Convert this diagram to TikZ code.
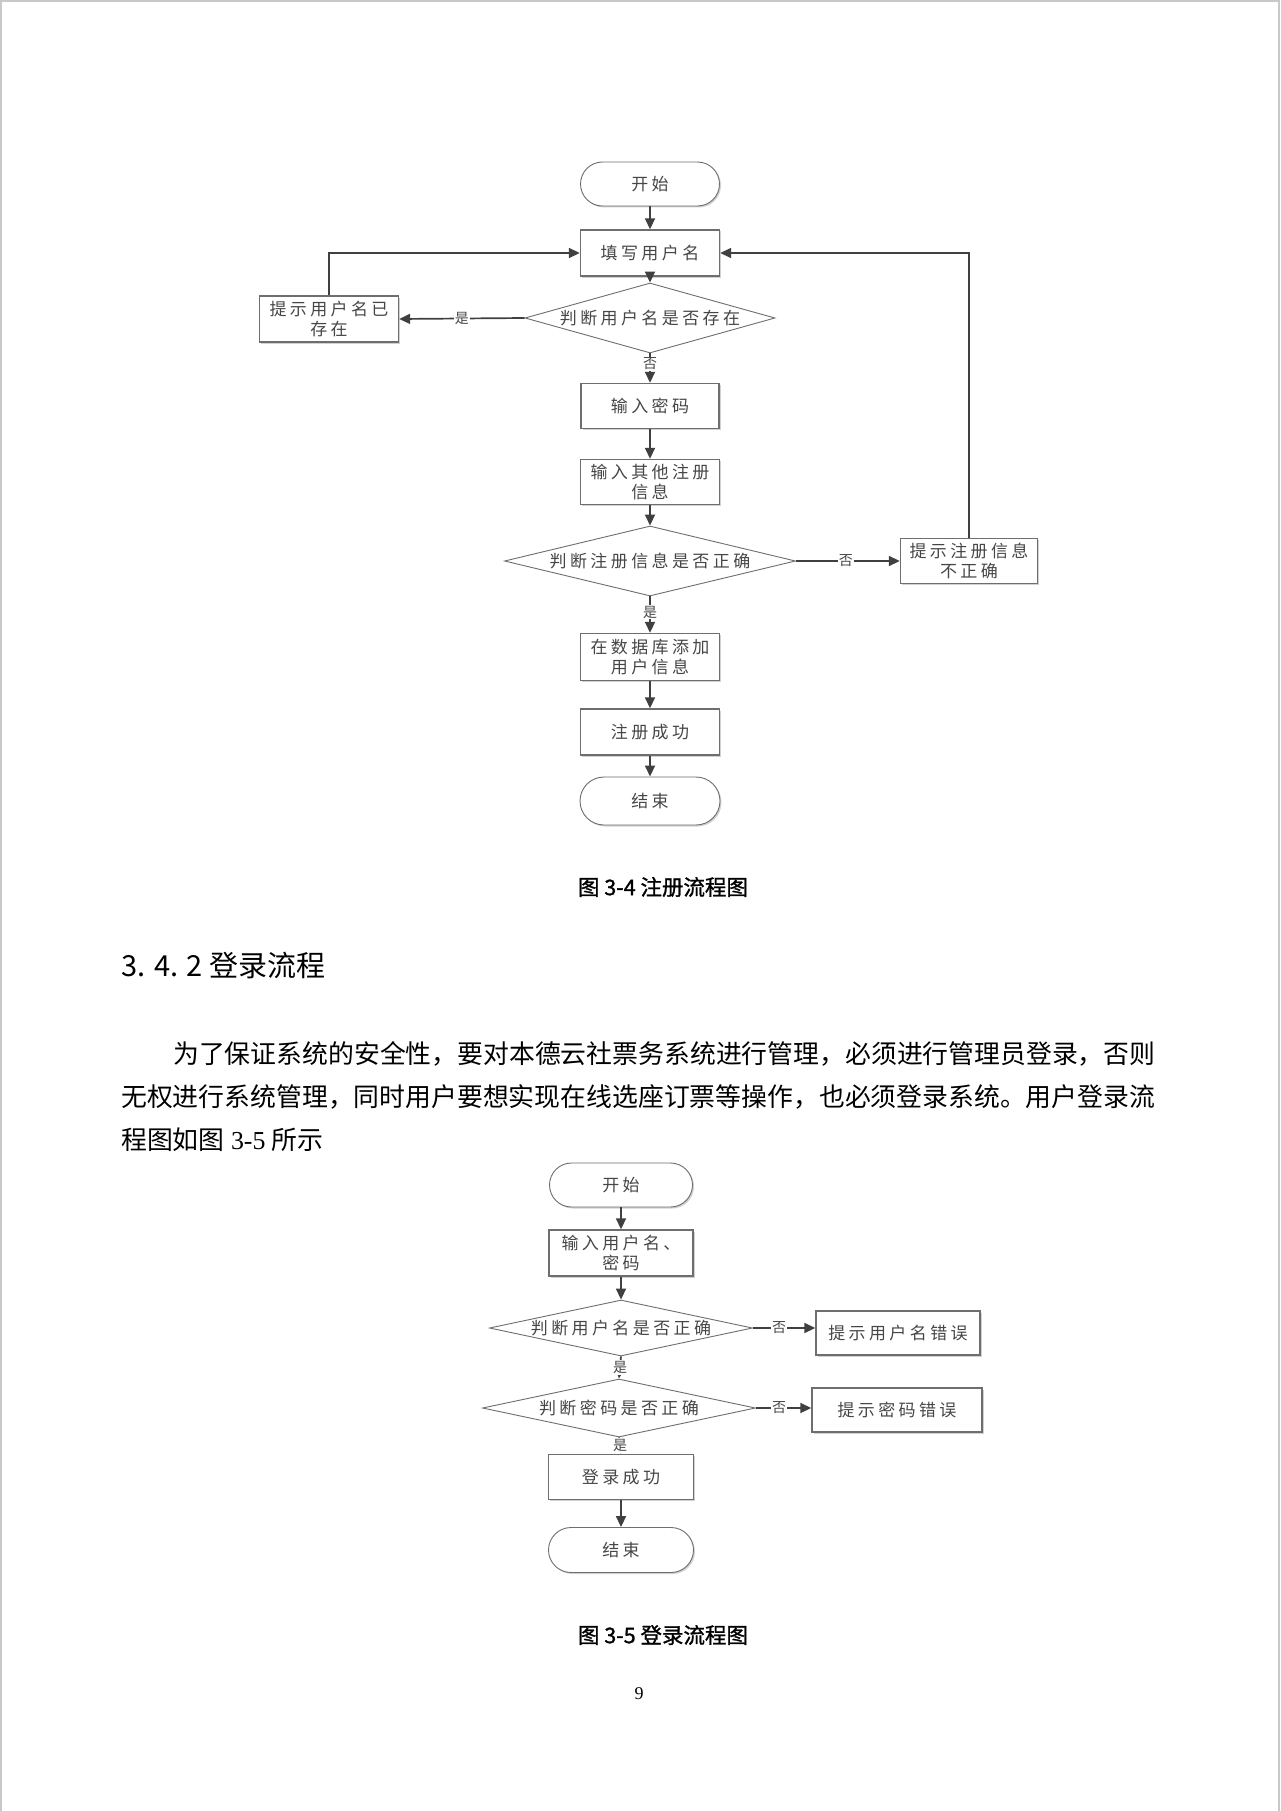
\documentclass[tikz,border=0pt]{standalone}
\usepackage{fontspec}
\setmainfont{Liberation Serif}
\newfontfamily\cjk{Noto Sans CJK SC}
\newfontfamily\cjkcap[FakeBold=1.2]{Noto Sans CJK SC}
\newfontfamily\cjkbox[LetterSpace=20]{Noto Sans CJK SC}
\usetikzlibrary{shapes.geometric,shapes.misc,arrows.meta,shadows}
\definecolor{ln}{RGB}{64,64,64}
\definecolor{bd}{RGB}{110,110,110}
\definecolor{tx}{RGB}{70,70,70}
\definecolor{pg}{RGB}{200,200,200}
\begin{document}
\begin{tikzpicture}[x=1pt,y=-1pt,
 boxtext/.style={font=\cjkbox\fontsize{17}{20}\selectfont, text=tx, align=center},
 shd/.style={drop shadow={shadow xshift=1.5pt, shadow yshift=-1.5pt, fill=black!18, opacity=1}},
 proc/.style={boxtext, rectangle, draw=bd, line width=1.4pt, fill=white, inner sep=0pt, shd},
 term/.style={boxtext, rounded rectangle, draw=bd, line width=0.9pt, fill=white, inner sep=0pt, shd},
 dec/.style={boxtext, diamond, draw=bd, line width=0.9pt, fill=white, inner sep=0pt},
 arr/.style={draw=ln, line width=1.7pt, -{Triangle[length=11pt,width=10pt]}},
 lab/.style={font=\cjk\fontsize{14}{14}\selectfont, text=tx, fill=white, inner sep=1pt},
]
\useasboundingbox (0,0) rectangle (1280,1811);
\fill[white] (0,0) rectangle (1280,1811);
\draw[pg, line width=2pt] (1,1811) -- (1,1) -- (1279,1) -- (1279,1811);

% ---------- Figure 3-4 ----------
\node[term, minimum width=139, minimum height=44] (s1) at (650,184) {开始};
\node[proc, minimum width=139, minimum height=46] (fill) at (650,253) {填写用户名};
\node[dec, minimum width=250, minimum height=70] (d1) at (650,318) {\makebox[0pt]{判断用户名是否存在}};
\node[proc, minimum width=139, minimum height=46] (exists) at (329,319) {提示用户名已\\存在};
\node[proc, minimum width=138, minimum height=45] (pwd) at (650,406) {输入密码};
\node[proc, minimum width=139, minimum height=45] (other) at (650,482) {输入其他注册\\信息};
\node[dec, minimum width=291, minimum height=70] (d2) at (650,561) {\makebox[0pt]{判断注册信息是否正确}};
\node[proc, minimum width=137, minimum height=45] (wrong) at (969,561) {提示注册信息\\不正确};
\node[proc, minimum width=139, minimum height=47] (db) at (650,657) {在数据库添加\\用户信息};
\node[proc, minimum width=139, minimum height=46] (ok) at (650,732) {注册成功};
\node[term, minimum width=140, minimum height=48] (e1) at (650,801) {结束};

\draw[arr] (s1.south) -- (fill.north);
\draw[arr] (fill.south) -- (d1.north);
\draw[arr] (d1.west) -- node[lab]{是} (exists.east);
\draw[arr] (exists.north) |- (fill.west);
\draw[arr] (d1.south) -- node[lab, pos=0.35]{否} (pwd.north);
\draw[arr] (pwd.south) -- (other.north);
\draw[arr] (other.south) -- (d2.north);
\draw[arr] (d2.east) -- node[lab, pos=0.48]{否} (wrong.west);
\draw[arr] (wrong.north) |- (fill.east);
\draw[arr] (d2.south) -- node[lab, pos=0.43]{是} (db.north);
\draw[arr] (db.south) -- (ok.north);
\draw[arr] (ok.south) -- (e1.north);

\node[font=\cjkcap\fontsize{21.5}{21.5}\selectfont] (cap1) at (663,887) {图 3-4 注册流程图};

% ---------- text ----------
\node[anchor=west, inner sep=0pt, font=\cjk\fontsize{29}{29}\selectfont] (head) at (121,965) {3. 4. 2 登录流程};
\node[anchor=west, inner sep=0pt, font=\cjk\fontsize{25.85}{25.85}\selectfont] (p1) at (173,1054) {为了保证系统的安全性，要对本德云社票务系统进行管理，必须进行管理员登录，否则};
\node[anchor=west, inner sep=0pt, font=\cjk\fontsize{25.85}{25.85}\selectfont] (p2) at (121,1097) {无权进行系统管理，同时用户要想实现在线选座订票等操作，也必须登录系统。用户登录流};
\node[anchor=west, inner sep=0pt, font=\fontsize{25.85}{25.85}\selectfont] (p3) at (121,1140) {{\cjk 程图如图} 3-5 {\cjk 所示}};

% ---------- Figure 3-5 ----------
\node[term, minimum width=143, minimum height=44] (s2) at (621,1185) {开始};
\node[proc, minimum width=144, minimum height=46] (in2) at (621,1253) {输入用户名、\\密码};
\node[dec, minimum width=263, minimum height=56] (q1) at (621,1328) {\makebox[0pt]{判断用户名是否正确}};
\node[proc, minimum width=164, minimum height=44] (err1) at (898,1333) {提示用户名错误};
\node[dec, minimum width=273, minimum height=58] (q2) at (619,1408) {\makebox[0pt]{判断密码是否正确}};
\node[proc, minimum width=170, minimum height=44] (err2) at (897,1410) {提示密码错误};
\node[proc, minimum width=145, minimum height=45] (succ) at (621,1477) {登录成功};
\node[term, minimum width=145, minimum height=45] (e2) at (621,1550) {结束};

\draw[arr] (s2.south) -- (in2.north);
\draw[arr] (in2.south) -- (q1.north);
\draw[arr] (q1.east) -- node[lab, pos=0.42]{否} (q1.east -| err1.west);
\draw[arr] (q1.south) -- node[lab]{是} (q2.north);
\draw[arr] (q2.east) -- node[lab, pos=0.42]{否} (q2.east -| err2.west);
\draw[arr] (q2.south) -- node[lab]{是} (succ.north);
\draw[arr] (succ.south) -- (e2.north);

\node[font=\cjkcap\fontsize{21.5}{21.5}\selectfont] (cap2) at (663,1635) {图 3-5 登录流程图};
\node[font=\fontsize{18}{18}\selectfont] (pgno) at (639,1694) {9};
\end{tikzpicture}
\end{document}
